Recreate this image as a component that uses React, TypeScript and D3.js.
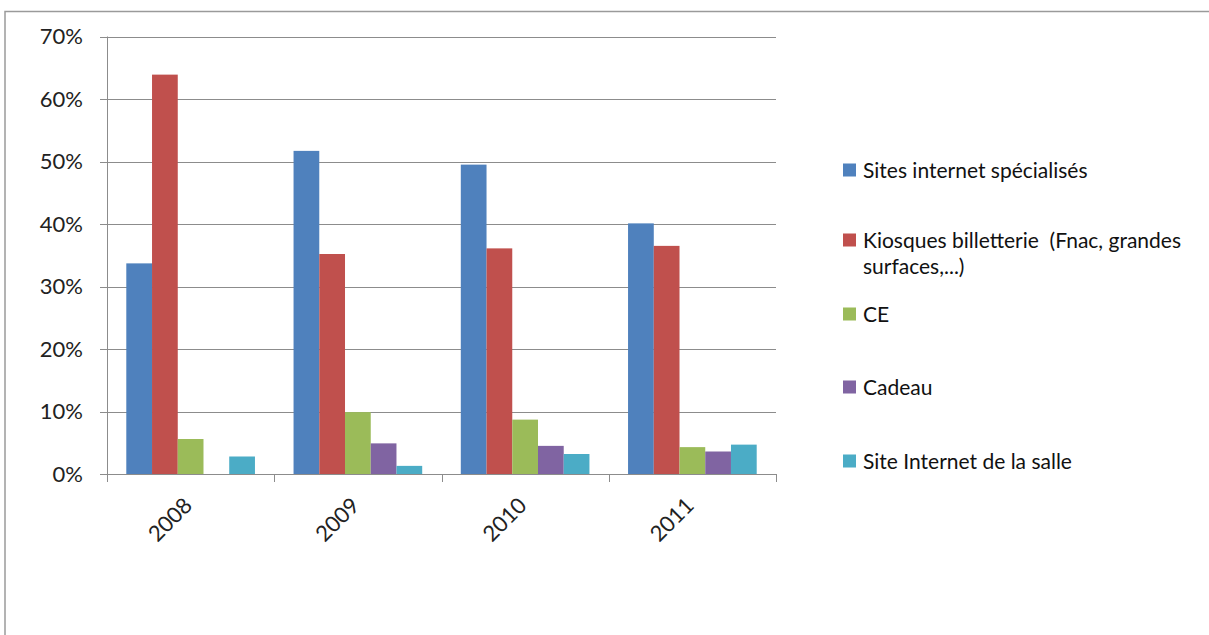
import React, { useEffect, useRef } from 'react';
import * as d3 from 'd3';

const categories = ['2008', '2009', '2010', '2011'];
const seriesNames = [
  'Sites internet spécialisés',
  'Kiosques billetterie  (Fnac, grandes surfaces,...)',
  'CE',
  'Cadeau',
  'Site Internet de la salle',
];
// legend lines (the long entry wraps in two)
const legendLines = [
  ['Sites internet spécialisés'],
  ['Kiosques billetterie  (Fnac, grandes', 'surfaces,...)'],
  ['CE'],
  ['Cadeau'],
  ['Site Internet de la salle'],
];
const sitesSpecialises = [0.337, 0.517, 0.495, 0.401];
const kiosques = [0.639, 0.352, 0.361, 0.365];
const ce = [0.056, 0.099, 0.087, 0.043];
const cadeau = [0, 0.049, 0.045, 0.036];
const siteSalle = [0.028, 0.013, 0.032, 0.047];
const yTicks = [0, 0.1, 0.2, 0.3, 0.4, 0.5, 0.6, 0.7];

const colors = ['#4F81BD', '#C0504D', '#9BBB59', '#8064A2', '#4BACC6'];

export default function App() {
  const svgRef = useRef<SVGSVGElement>(null);

  useEffect(() => {
    if (!svgRef.current) return;
    const svg = d3.select(svgRef.current);
    svg.selectAll('*').remove();

    const width = 1209;
    const height = 635;
    const font = 'Lato, "Noto Sans", sans-serif';
    const allValues = [sitesSpecialises, kiosques, ce, cadeau, siteSalle];

    svg.attr('width', width).attr('height', height).style('font-family', font);

    svg.append('rect').attr('width', width).attr('height', height).attr('fill', '#fff');

    // cadre du graphique
    svg.append('rect')
      .attr('x', 5).attr('y', 11.5)
      .attr('width', 1300).attr('height', 800)
      .attr('fill', 'none')
      .attr('stroke', '#9a9a9a')
      .attr('stroke-width', 1.5);

    const y = d3.scaleLinear().domain([0, 0.7]).range([474, 36.5]);
    const x0 = d3.scaleBand<string>().domain(categories).range([107, 776]).padding(0);
    const x1 = d3.scaleBand<string>()
      .domain(seriesNames)
      .range([0, x0.bandwidth()])
      .paddingInner(0)
      .paddingOuter(0.75);

    // grille
    svg.append('g')
      .selectAll('line')
      .data(yTicks)
      .join('line')
      .attr('x1', 100).attr('x2', 776)
      .attr('y1', (d) => Math.round(y(d)) + 0.5)
      .attr('y2', (d) => Math.round(y(d)) + 0.5)
      .attr('stroke', '#8c8c8c')
      .attr('stroke-width', 1);

    // axe vertical
    svg.append('line')
      .attr('x1', 107.5).attr('x2', 107.5)
      .attr('y1', y(0.7)).attr('y2', y(0))
      .attr('stroke', '#8c8c8c');

    // libellés Y
    svg.append('g')
      .selectAll('text')
      .data(yTicks)
      .join('text')
      .attr('x', 83)
      .attr('y', (d) => y(d))
      .attr('dy', '0.36em')
      .attr('text-anchor', 'end')
      .attr('fill', '#222')
      .style('font-size', '22px')
      .text((d) => d3.format('.0%')(d));

    // barres
    allValues.forEach((vals, si) => {
      svg.append('g')
        .selectAll('rect')
        .data(vals)
        .join('rect')
        .attr('x', (_, i) => x0(categories[i])! + x1(seriesNames[si])!)
        .attr('width', x1.bandwidth())
        .attr('y', (d) => y(d))
        .attr('height', (d) => y(0) - y(d))
        .attr('fill', colors[si]);
    });

    // graduations X
    const bounds = categories.map((c) => x0(c)!).concat([776]);
    svg.append('g')
      .selectAll('line')
      .data(bounds)
      .join('line')
      .attr('x1', (d) => Math.round(d) + 0.5)
      .attr('x2', (d) => Math.round(d) + 0.5)
      .attr('y1', 474).attr('y2', 482)
      .attr('stroke', '#8c8c8c');

    // libellés X
    svg.append('g')
      .selectAll('text')
      .data(categories)
      .join('text')
      .attr('text-anchor', 'end')
      .attr('transform', (d) => `translate(${x0(d)! + x0.bandwidth() / 2 + 3},${507}) rotate(-45)`)
      .attr('fill', '#222')
      .style('font-size', '22px')
      .text((d) => d);

    // légende
    const legendY = [170, 240, 314, 387, 461];
    legendLines.forEach((lines, i) => {
      const g = svg.append('g').attr('transform', `translate(843,${legendY[i]})`);
      g.append('rect')
        .attr('x', 0).attr('y', -6.5)
        .attr('width', 13).attr('height', 13)
        .attr('fill', colors[i]);
      lines.forEach((t, li) => {
        g.append('text')
          .attr('x', 20)
          .attr('y', li * 26)
          .attr('dy', '0.36em')
          .attr('fill', '#111')
          .style('font-size', '21px')
          .style('white-space', 'pre')
          .text(t);
      });
    });
  }, []);

  return (
    <div style={{ position: 'absolute', left: 0, top: 0 }}>
      <svg ref={svgRef} style={{ display: 'block' }} />
    </div>
  );
}
